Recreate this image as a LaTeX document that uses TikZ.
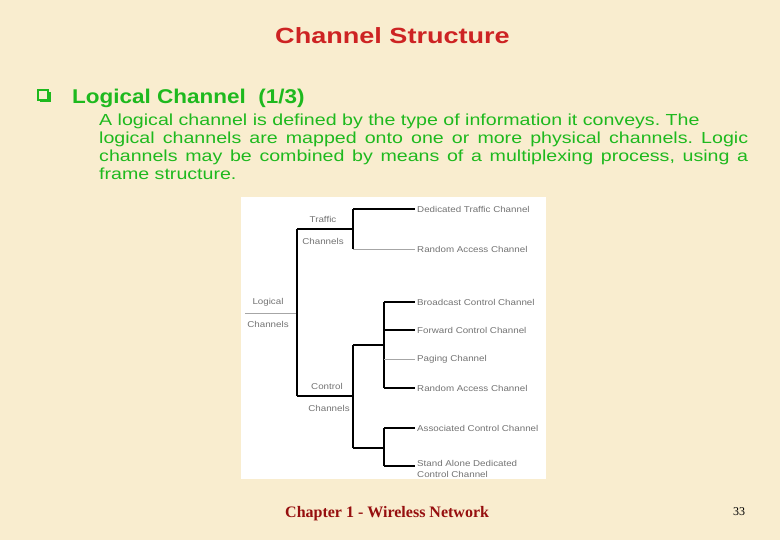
\documentclass[tikz,border=0pt]{standalone}
\usepackage{fontspec}
\setmainfont{Liberation Sans}
\newfontfamily\titlefont[FakeStretch=1.23]{Liberation Sans}
\newfontfamily\headfont[FakeStretch=1.13]{Liberation Sans}
\newfontfamily\bodyfont[FakeStretch=1.225]{Liberation Sans}
\newfontfamily\labfont[FakeStretch=1.15]{Liberation Sans}
\newfontfamily\footfont{Liberation Serif}
\definecolor{bgcream}{RGB}{249,237,207}
\definecolor{titlered}{RGB}{205,35,35}
\definecolor{headgreen}{RGB}{30,185,30}
\definecolor{footred}{RGB}{150,15,15}
\definecolor{labgray}{RGB}{115,115,115}
\tikzset{
  leaf/.style={anchor=west, inner xsep=2pt, inner ysep=0pt, text=labgray, font=\labfont\fontsize{8.5}{10}\selectfont},
  grp/.style={inner sep=0pt, text=labgray, font=\labfont\fontsize{8.5}{10}\selectfont},
  dark/.style={line width=1.1pt, black},
  light/.style={line width=0.7pt, gray!70}
}
\begin{document}
\begin{tikzpicture}[x=1pt,y=-1pt]
\fill[bgcream] (0,0) rectangle (780,540);
\useasboundingbox (0,0) rectangle (780,540);
% title
\node[font=\titlefont\bfseries\fontsize{22}{24}\selectfont, text=titlered] (title) at (392.5,36) {Channel Structure};
% bullet (hollow square with shadow)
\fill[headgreen] (40,92) rectangle (50.5,102.5);
\fill[bgcream] (38,90) rectangle (48,100);
\draw[headgreen, line width=1.3pt] (38,90) rectangle (48,100);
\node[anchor=base west, inner sep=0pt, font=\headfont\bfseries\fontsize{19.9}{24}\selectfont, text=headgreen] (head) at (72,104) {Logical Channel\ \ (1/3)};
\node[anchor=base west, inner sep=0pt, text width=649pt, align=justify, font=\bodyfont\fontsize{16}{17.8}\selectfont, text=headgreen] (body) at (99,126)
 {\frenchspacing A logical channel is defined by the type of information it conveys. The\newline
  logical channels are mapped onto one or more physical channels. Logic\linebreak
  channels may be combined by means of a multiplexing process, using a\linebreak
  frame structure.};
% diagram panel
\fill[white] (241,197) rectangle (546,479);
% group labels
\node[grp] (lg1) at (268,302) {Logical};
\node[grp] (lg2) at (268,324) {Channels};
\node[grp] (tr1) at (323,219) {Traffic};
\node[grp] (tr2) at (323,241) {Channels};
\node[grp] (co1) at (327,386) {Control};
\node[grp] (co2) at (329,408) {Channels};
% junctions
\coordinate (root) at (245,313);
\coordinate (trunk) at (297,313);
\coordinate (tt) at (297,229);
\coordinate (tc) at (297,396);
\coordinate (tv) at (353,229);
\coordinate (tv1) at (353,209);
\coordinate (tv2) at (353,249);
\coordinate (cv) at (353,396);
\coordinate (cv1) at (353,345);
\coordinate (cv2) at (353,448);
\coordinate (ua) at (384,345);
\coordinate (u1) at (384,302);
\coordinate (u2) at (384,330);
\coordinate (u3) at (384,359);
\coordinate (u4) at (384,388);
\coordinate (la) at (384,448);
\coordinate (l1) at (384,428);
\coordinate (l2) at (384,466);
% leaves
\node[leaf] (dtc) at (415,209) {Dedicated Traffic Channel};
\node[leaf] (rac1) at (415,249) {Random Access Channel};
\node[leaf] (bcc) at (415,302) {Broadcast Control Channel};
\node[leaf] (fcc) at (415,330) {Forward Control Channel};
\node[leaf] (pch) at (415,359) {Paging Channel};
\node[leaf] (rac2) at (415,388) {Random Access Channel};
\node[leaf] (acc) at (415,428) {Associated Control Channel};
\node[leaf, align=left, font=\labfont\fontsize{8.5}{11}\selectfont] (sad) at (415,468.5) {Stand Alone Dedicated\\Control Channel};
% connectors
\draw[light] (root) -- (trunk);
\draw[dark] (tt) -- (tc);
\draw[dark] (tt) -- (tv);
\draw[dark] (tv1) -- (tv2);
\draw[dark] (tv1) -- (dtc.west);
\draw[light] (tv2) -- (rac1.west);
\draw[dark] (tc) -- (cv);
\draw[dark] (cv1) -- (cv2);
\draw[dark] (cv1) -- (ua);
\draw[dark] (u1) -- (u4);
\draw[dark] (u1) -- (bcc.west);
\draw[dark] (u2) -- (fcc.west);
\draw[light] (u3) -- (pch.west);
\draw[dark] (u4) -- (rac2.west);
\draw[dark] (cv2) -- (la);
\draw[dark] (l1) -- (l2);
\draw[dark] (l1) -- (acc.west);
\draw[dark] (l2) -- (sad.west |- l2);
% footer
\node[anchor=base west, inner sep=0pt, font=\footfont\bfseries\fontsize{16}{18}\selectfont, text=footred] (foot) at (285,517) {Chapter 1 - Wireless Network};
\node[anchor=base west, inner sep=0pt, font=\footfont\fontsize{12}{14}\selectfont] (page) at (733,515) {33};
\end{tikzpicture}
\end{document}
